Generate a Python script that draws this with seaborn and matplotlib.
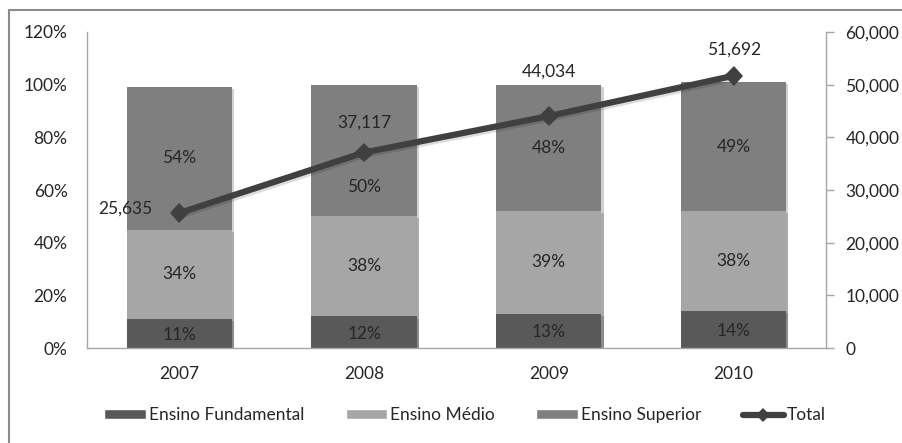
import matplotlib
matplotlib.use("Agg")
import matplotlib.pyplot as plt
import matplotlib.patheffects as pe
from matplotlib.patches import Patch, Rectangle
from matplotlib.lines import Line2D
import seaborn as sns
import pandas as pd

years = ["2007", "2008", "2009", "2010"]
fundamental = [11, 12, 13, 14]
medio = [34, 38, 39, 38]
superior = [54, 50, 48, 49]
total = [25635, 37117, 44034, 51692]

series_names = ["Ensino Fundamental", "Ensino Médio", "Ensino Superior"]
line_name = "Total"

col_fund = "#595959"
col_medio = "#a6a6a6"
col_sup = "#7f7f7f"
col_line = "#404040"
txt = "#262626"
fs = 12.5

sns.set_theme(style="white")
plt.rcParams["font.family"] = ["Lato", "DejaVu Sans"]
plt.rcParams["font.size"] = fs

fig = plt.figure(figsize=(9.03, 4.43), dpi=100)
ax = fig.add_axes([0.0963, 0.2144, 0.8184, 0.7134])

df = pd.DataFrame({"ano": years, "fund": fundamental, "medio": medio, "sup": superior})
df["c1"] = df["fund"]
df["c2"] = df["fund"] + df["medio"]
df["c3"] = df["c2"] + df["sup"]

shadow = [pe.SimplePatchShadow(offset=(1.5, -1.5), shadow_rgbFace="#000000", alpha=0.18), pe.Normal()]
bw = 0.57
for col, color in [("c3", col_sup), ("c2", col_medio), ("c1", col_fund)]:
    sns.barplot(data=df, x="ano", y=col, color=color, width=bw, ax=ax,
                saturation=1, linewidth=0, errorbar=None, order=years)
for p in ax.patches:
    p.set_path_effects(shadow)

ax.set_ylim(0, 120)
ax.set_xlim(-0.5, 3.5)
ax.set_yticks(range(0, 121, 20))
ax.set_yticklabels([f"{v}%" for v in range(0, 121, 20)], color=txt)
ax.set_xlabel("")
ax.set_ylabel("")
ax.tick_params(axis="y", length=0, pad=14, labelsize=fs)
ax.tick_params(axis="x", length=0, pad=13, labelsize=fs, colors=txt)
for s in ["top", "right"]:
    ax.spines[s].set_visible(False)
for s in ["left", "bottom"]:
    ax.spines[s].set_color("#a6a6a6")
    ax.spines[s].set_linewidth(1.0)

# segment labels, centred in each stack piece
sup_shift = [0, -14, 0, 0]
for i in range(len(years)):
    f, m, s = fundamental[i], medio[i], superior[i]
    ax.text(i, f / 2 - 0.5, f"{f}%", ha="center", va="center", color=txt, fontsize=fs)
    ax.text(i, f + m / 2, f"{m}%", ha="center", va="center", color=txt, fontsize=fs)
    ax.text(i, f + m + s / 2 + sup_shift[i], f"{s}%", ha="center", va="center", color=txt, fontsize=fs)

ax2 = ax.twinx()
ax2.set_position(ax.get_position())
ldf = pd.DataFrame({"x": range(len(years)), "total": total})
sns.lineplot(data=ldf, x="x", y="total", ax=ax2, color=col_line, linewidth=4.5,
             marker="D", markersize=10, markeredgewidth=0, markerfacecolor=col_line,
             path_effects=[pe.SimpleLineShadow(offset=(1.5, -1.5), alpha=0.15), pe.Normal()])
ax2.set_ylim(0, 60000)
ax2.set_xlim(-0.5, 3.5)
ax2.set_yticks(range(0, 60001, 10000))
ax2.set_yticklabels([f"{v:,}" for v in range(0, 60001, 10000)], color=txt)
ax2.tick_params(axis="y", length=6, width=1, color="#a6a6a6", pad=8, labelsize=fs)
ax2.set_ylabel("")
ax2.set_xlabel("")
for s in ["top", "left", "bottom"]:
    ax2.spines[s].set_visible(False)
ax2.spines["right"].set_color("#a6a6a6")
ax2.spines["right"].set_linewidth(1.0)
ax2.grid(False)

# value labels on the Total line
label_offsets = [(-19, 3, "right", "center"), (0, 16, "center", "bottom"),
                 (0, 26, "center", "bottom"), (0, 13, "center", "bottom")]
for i, v in enumerate(total):
    dx, dy, ha, va = label_offsets[i]
    ax2.annotate(f"{v:,}", (i, v), xytext=(dx, dy), textcoords="offset points",
                 ha=ha, va=va, color=txt, fontsize=fs)

handles = [Patch(facecolor=col_fund, label=series_names[0]),
           Patch(facecolor=col_medio, label=series_names[1]),
           Patch(facecolor=col_sup, label=series_names[2]),
           Line2D([0], [0], color=col_line, linewidth=4.5, marker="D", markersize=7,
                  markeredgewidth=0, label=line_name)]
leg = fig.legend(handles=handles, loc="center", bbox_to_anchor=(0.515, 0.063), ncol=4,
                 frameon=False, fontsize=fs, handlelength=2.4, handleheight=0.5,
                 handletextpad=0.15, columnspacing=2.4)
for t in leg.get_texts():
    t.set_color(txt)

# chart area border
fig.patches.append(Rectangle((9 / 903, -0.05), 1.2, 1 - 10 / 443 + 0.05,
                             transform=fig.transFigure, fill=False,
                             edgecolor="#8c8c8c", linewidth=1.5))

fig.savefig("out.png", dpi=100)
